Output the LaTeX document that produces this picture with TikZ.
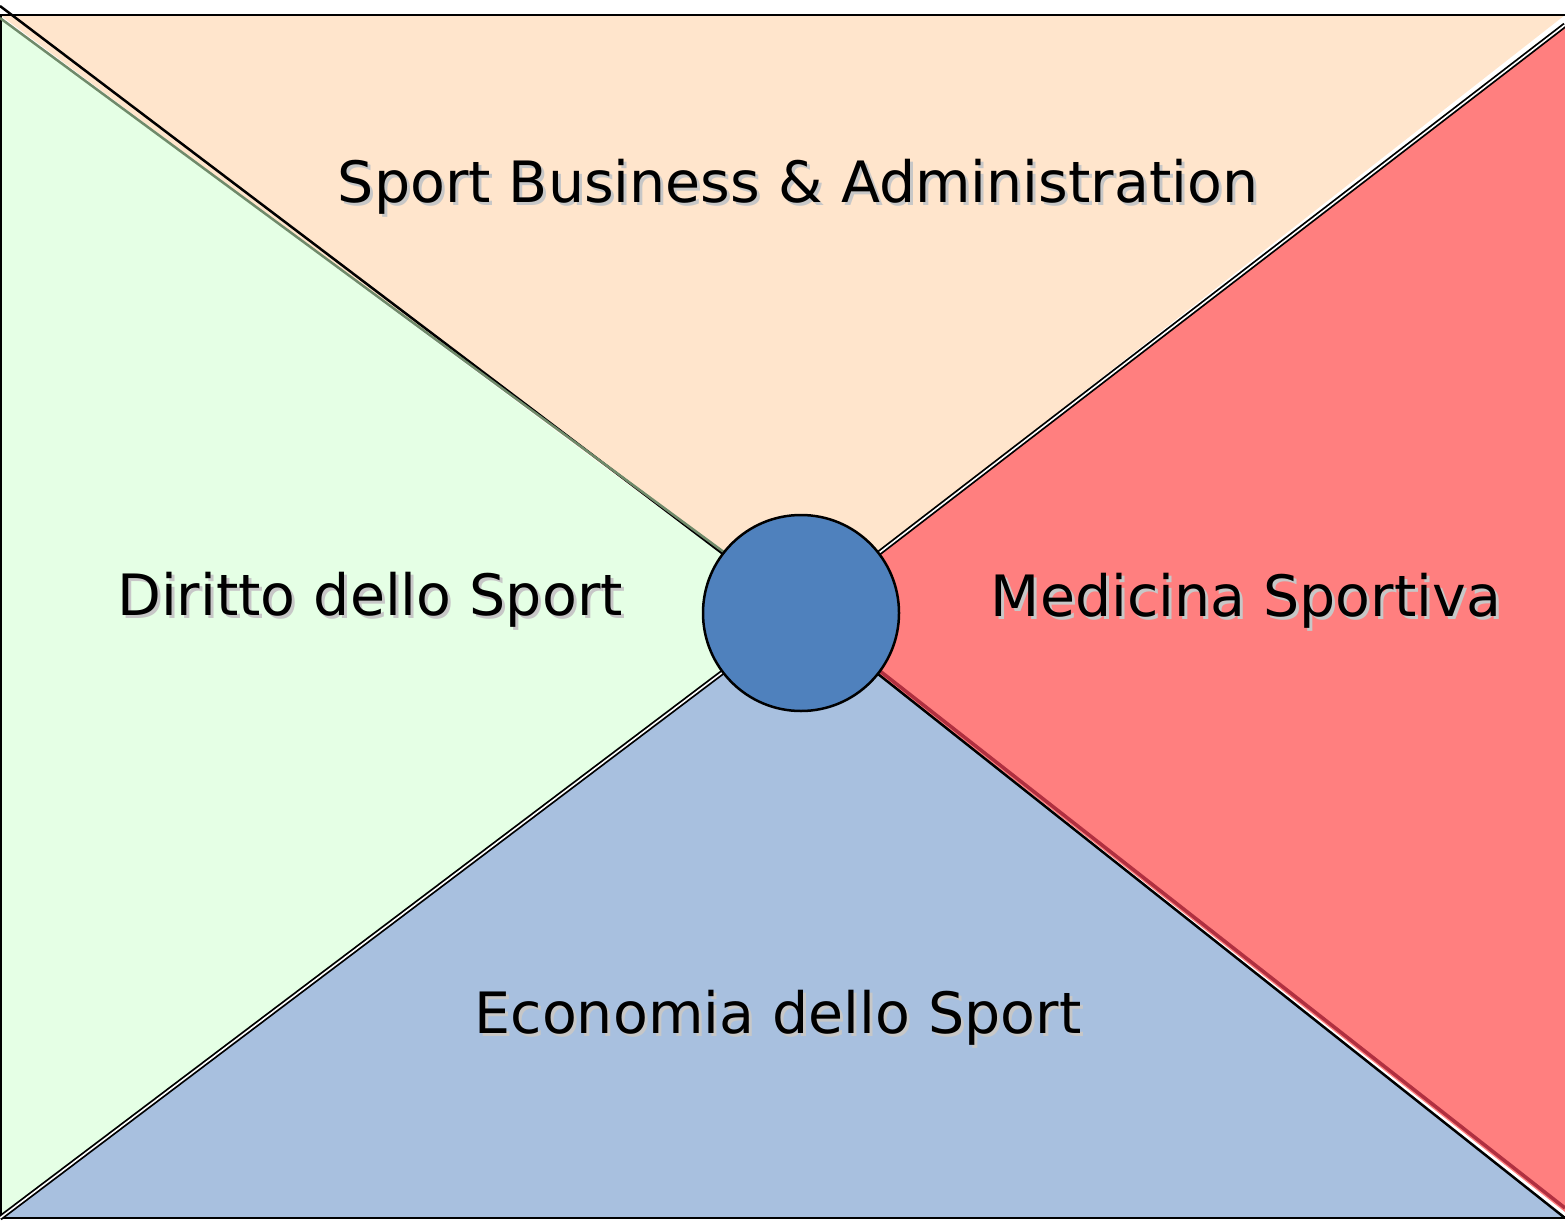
\documentclass[tikz,border=0pt]{standalone}
\usepackage{fontspec}
\setmainfont{DejaVu Sans}
\usepackage{tikz}

\definecolor{peach}{HTML}{FFE5CC}
\definecolor{mint}{HTML}{E5FFE5}
\definecolor{salmon}{HTML}{FF7F7F}
\definecolor{steel}{HTML}{A8C0DF}
\definecolor{hubblue}{HTML}{4F81BD}
\definecolor{mintedge}{HTML}{6F8A6A}
\definecolor{salmonedge}{HTML}{B03040}

\begin{document}
\begin{tikzpicture}[x=1pt, y=-1pt, line width=2.5pt,
    lbl/.style={font=\fontsize{57}{66}\selectfont, inner sep=0pt},
    shd/.style={lbl, text=black!22}]
    \useasboundingbox (0,0) rectangle (1565,1220);

    \coordinate (c)  at (801, 613);
    \coordinate (tl) at (0, 15);
    \coordinate (tr) at (1565, 15);
    \coordinate (bl) at (0, 1218);
    \coordinate (br) at (1565, 1218);

    % four sectors
    \fill[peach]  (tl) -- (tr) -- (c) -- cycle;
    \fill[mint]   (0, 18) -- (bl) -- (c) -- cycle;
    \fill[steel]  (bl) -- (br) -- (c) -- cycle;
    \fill[salmon] (1565, 25) -- (1565, 1212) -- (c) -- cycle;

    % borders
    \draw (tl) -- (tr);
    \draw (1, 15) -- (1, 1218);
    \draw (bl) -- (br);
    \draw (0, 6) -- (c);
    \draw[mintedge] (0, 18) -- ([yshift=4pt]c);
    \draw[double=white, double distance=1.6pt, line width=1.8pt] (1565, 25) -- (c);
    \draw[double=white, double distance=1.6pt, line width=1.8pt] (bl) -- (c);
    \draw (br) -- (c);
    \draw[salmonedge, line width=3.5pt] (1565, 1208) -- ([xshift=5pt]c);

    \node[draw, circle, fill=hubblue, minimum size=196pt, inner sep=0pt] (hub) at (c) {};

    % labels with shadow
    \node[shd] (s top)   at (801, 190) {Sport Business \& Administration};
    \node[shd] (s left)  at (373, 603) {Diritto dello Sport};
    \node[shd] (s right) at (1249, 604) {Medicina Sportiva};
    \node[shd] (s bot)   at (781, 1021) {Economia dello Sport};

    \node[lbl] (top)   at (798, 187) {Sport Business \& Administration};
    \node[lbl] (left)  at (370, 600) {Diritto dello Sport};
    \node[lbl] (right) at (1246, 601) {Medicina Sportiva};
    \node[lbl] (bot)   at (778, 1018) {Economia dello Sport};
\end{tikzpicture}
\end{document}
